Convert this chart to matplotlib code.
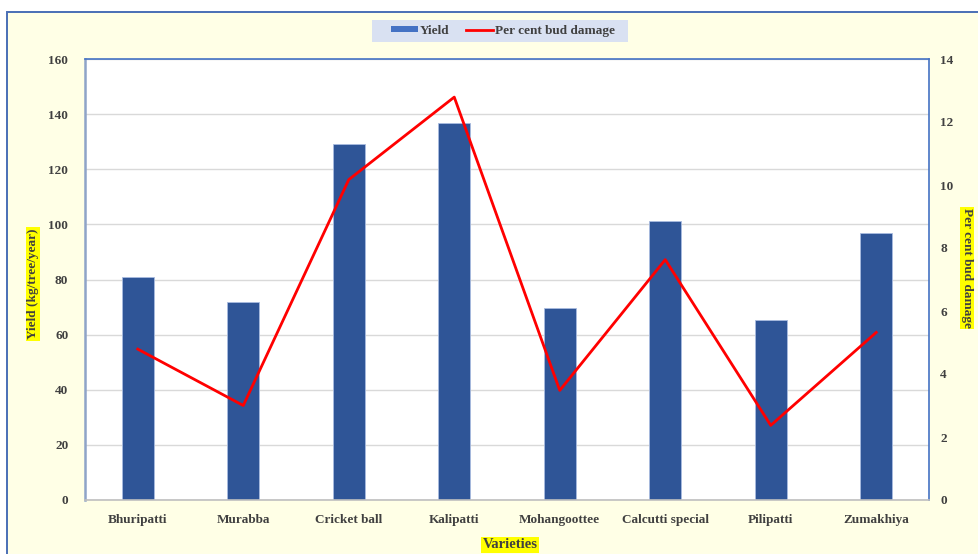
import numpy as np
import matplotlib.pyplot as plt
from matplotlib.patches import Rectangle
from matplotlib.lines import Line2D

## data
varieties = ['Bhuripatti', 'Murabba', 'Cricket ball', 'Kalipatti', 'Mohangoottee',
             'Calcutti special', 'Pilipatti', 'Zumakhiya']
yield_kg = [81.0, 72.0, 129.3, 136.6, 69.8, 101.2, 65.4, 97.0]
bud_damage = [4.79, 3.00, 10.17, 12.79, 3.48, 7.63, 2.37, 5.32]

font_name = 'Liberation Serif'
txt_col = '#404040'
bg_col = '#FFFFE6'

fig = plt.figure(figsize=(9.79, 5.54), dpi=100)
fig.patch.set_facecolor('white')
# yellow panel with thin blue frame, running off the right/bottom edges
fig.patches.append(Rectangle((7/979, -0.05), 1.05, (554-12)/554 + 0.05,
                             transform=fig.transFigure, facecolor=bg_col,
                             edgecolor='#4A6FB5', lw=1.4, zorder=-10))
# legend background box
fig.patches.append(Rectangle((372/979, 1 - 42/554), 256/979, 22/554,
                             transform=fig.transFigure, facecolor='#D9E1F2',
                             edgecolor='none', zorder=-5))

ax = fig.add_axes([85/979, 54/554, 844/979, 441/554])
ax.set_facecolor('white')
x = np.arange(len(varieties))
ax.bar(x, yield_kg, width=0.30, color='#2F5597', edgecolor='#A9BCE0', lw=0.6, zorder=2)
ax.set_xlim(-0.5, len(varieties) - 0.5)
ax.set_ylim(0, 160)
ax.set_yticks(np.arange(0, 161, 20))
ax.yaxis.grid(True, color='#D9D9D9', lw=1.0, zorder=0)
ax.set_axisbelow(True)
ax.set_xticks(x)
ax.set_xticklabels(varieties)
ax.tick_params(length=0, colors=txt_col, labelsize=9.5)
ax.tick_params(axis='x', pad=10)
ax.tick_params(axis='y', pad=12)
for s in ['top', 'right']:
    ax.spines[s].set_color('#4472C4')
    ax.spines[s].set_linewidth(1.2)
ax.spines['left'].set_color('#8FA4C8')
ax.spines['left'].set_linewidth(1.8)
ax.spines['bottom'].set_color('#BFBFBF')
ax.spines['bottom'].set_linewidth(1.2)

ax2 = ax.twinx()
ax2.plot(x, bud_damage, color='#FF0000', lw=2.0, zorder=3)
ax2.set_ylim(0, 14)
ax2.set_yticks(np.arange(0, 15, 2))
ax2.tick_params(length=0, colors=txt_col, labelsize=9.5, pad=8)
for s in ax2.spines.values():
    s.set_visible(False)

for t in ax.get_xticklabels() + ax.get_yticklabels() + ax2.get_yticklabels():
    t.set_fontname(font_name)
    t.set_fontweight('bold')

hl = dict(boxstyle='square,pad=0.1', facecolor='#FFFF00', edgecolor='none')
lab = dict(fontname=font_name, fontweight='bold', color=txt_col, bbox=hl)
fig.text(510/979, 1 - 545/554, 'Varieties', ha='center', va='center', fontsize=10.5, **lab)
fig.text(33/979, 1 - 284/554, 'Yield (kg/tree/year)', ha='center', va='center',
         rotation=90, fontsize=9.5, **lab)
fig.text(967/979, 1 - 268/554, 'Per cent bud damage', ha='center', va='center',
         rotation=-90, fontsize=9.5, **lab)

handles = [Rectangle((0, 0), 1, 1, facecolor='#4472C4'),
           Line2D([0], [0], color='#FF0000', lw=2)]
leg = fig.legend(handles, ['Yield', 'Per cent bud damage'], loc='center',
                 bbox_to_anchor=(503/979, 1 - 31/554), ncol=2, frameon=False,
                 handlelength=2.0, handleheight=0.35, handletextpad=0.15,
                 columnspacing=1.3,
                 prop={'family': font_name, 'weight': 'bold', 'size': 9.5})
for t in leg.get_texts():
    t.set_color(txt_col)

plt.savefig('out.png', dpi=100, facecolor=fig.get_facecolor())
